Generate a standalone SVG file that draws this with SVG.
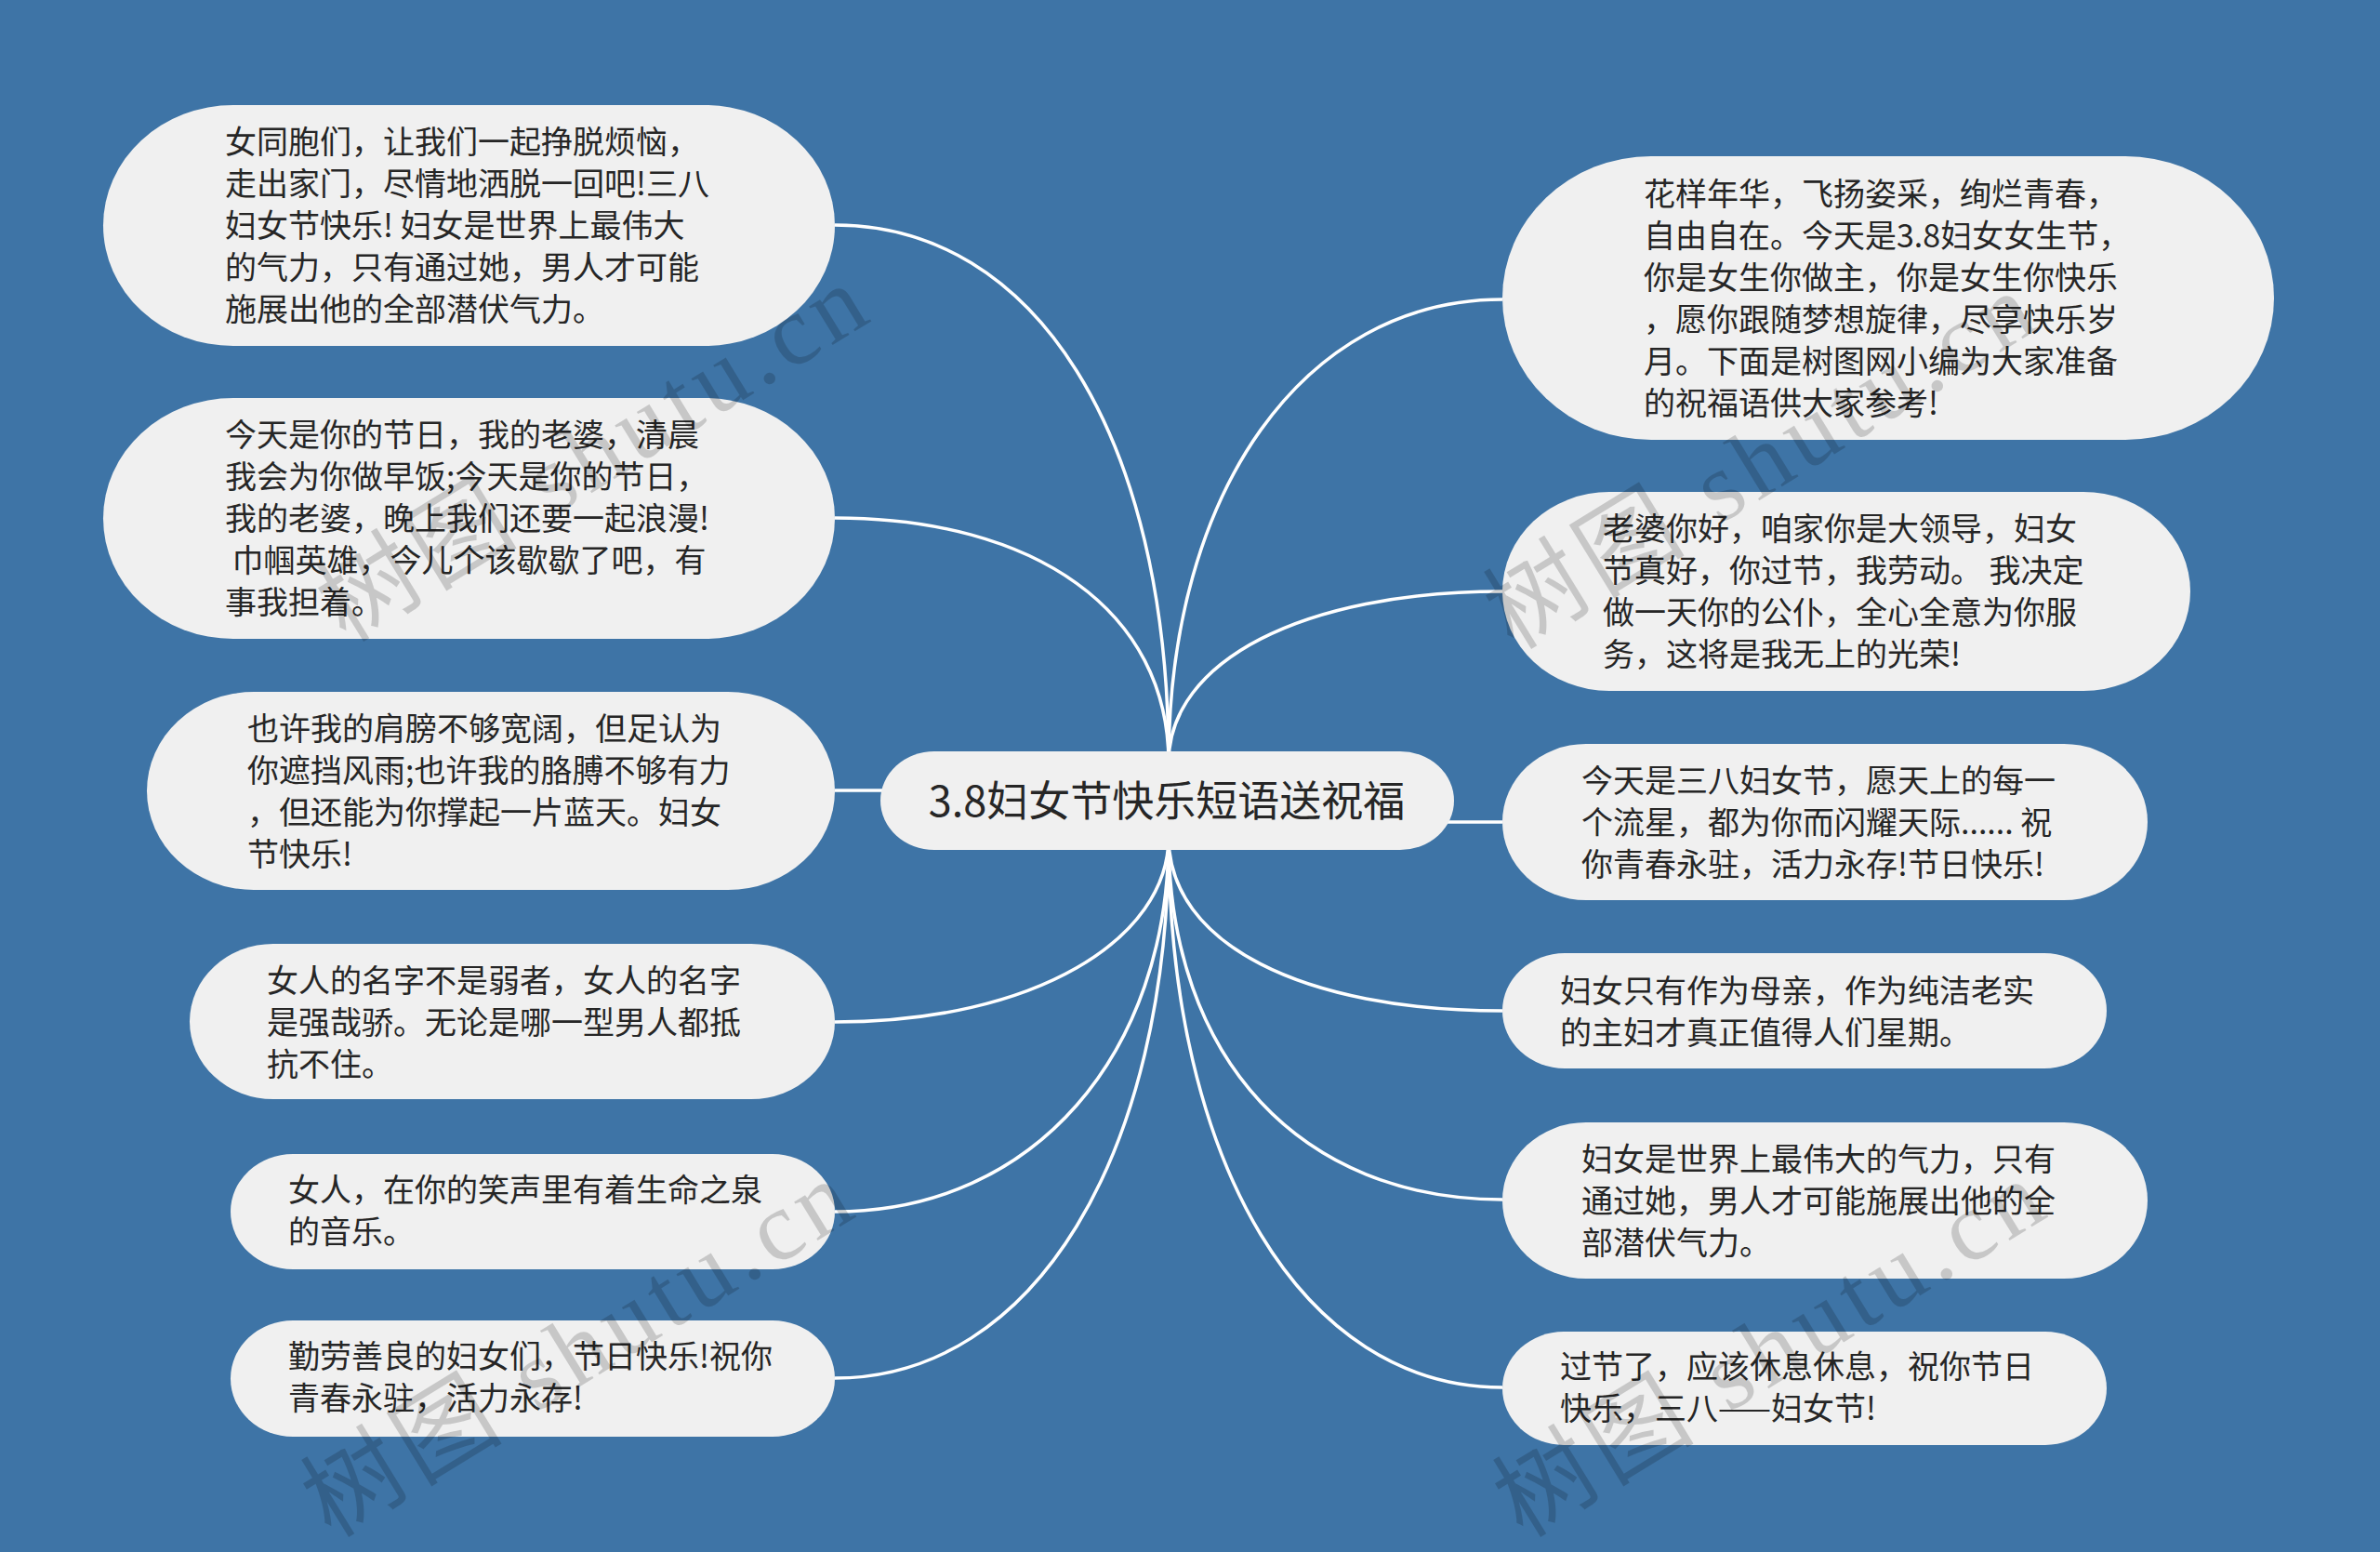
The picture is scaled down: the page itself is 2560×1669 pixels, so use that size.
<svg xmlns="http://www.w3.org/2000/svg" width="2560" height="1669" viewBox="0 0 2560 1669">
<style>
.bg{fill:#3e74a6}
.node{fill:#f0f0f0}
.t{font-family:"Noto Sans CJK SC","Noto Sans",sans-serif;font-size:34px;fill:#262626;white-space:pre}
.title{font-family:"Noto Sans CJK SC","Noto Sans",sans-serif;font-size:45px;fill:#262626;text-anchor:middle}
.edge{fill:none;stroke:#ffffff;stroke-width:3.5}
.wm{font-family:"Liberation Serif","Noto Sans CJK SC",serif;font-size:106px;fill:#000;fill-opacity:0.17;letter-spacing:7px}
</style>
<rect class="bg" x="0" y="0" width="2560" height="1669"/>
<g id="connectors">
<path class="edge" d="M898 242 C1113 242 1257 468 1257 820"/>
<path class="edge" d="M898 557 C1113 557 1257 657 1257 820"/>
<path class="edge" d="M898 850 L960 850"/>
<path class="edge" d="M898 1099 C1113 1099 1257 1010 1257 900"/>
<path class="edge" d="M898 1303 C1113 1303 1257 1132 1257 900"/>
<path class="edge" d="M898 1482 C1113 1482 1257 1240 1257 900"/>
<path class="edge" d="M1616 322 C1401 322 1257 531 1257 820"/>
<path class="edge" d="M1616 636 C1401 636 1257 711 1257 820"/>
<path class="edge" d="M1550 884 L1616 884"/>
<path class="edge" d="M1616 1087 C1401 1087 1257 1015 1257 900"/>
<path class="edge" d="M1616 1290 C1401 1290 1257 1140 1257 900"/>
<path class="edge" d="M1616 1492 C1401 1492 1257 1250 1257 900"/>
</g>
<g id="root">
<rect class="node" x="947" y="808" width="617" height="106" rx="58" ry="53"/>
<text class="title" x="1255" y="878">3.8妇女节快乐短语送祝福</text>
</g>
<g id="n-l1">
<rect class="node" x="111" y="113" width="787" height="259" rx="140" ry="129.5"/>
<text class="t"><tspan x="242" y="165">女同胞们，让我们一起挣脱烦恼，</tspan><tspan x="242" y="210">走出家门，尽情地洒脱一回吧!三八</tspan><tspan x="242" y="255">妇女节快乐! 妇女是世界上最伟大</tspan><tspan x="242" y="300">的气力，只有通过她，男人才可能</tspan><tspan x="242" y="345">施展出他的全部潜伏气力。</tspan></text>
</g>
<g id="n-l2">
<rect class="node" x="111" y="428" width="787" height="259" rx="140" ry="129.5"/>
<text class="t"><tspan x="242" y="480">今天是你的节日，我的老婆，清晨</tspan><tspan x="242" y="525">我会为你做早饭;今天是你的节日，</tspan><tspan x="242" y="570">我的老婆，晚上我们还要一起浪漫!</tspan><tspan x="242" y="615"> 巾帼英雄，今儿个该歇歇了吧，有</tspan><tspan x="242" y="660">事我担着。</tspan></text>
</g>
<g id="n-l3">
<rect class="node" x="158" y="744" width="740" height="213" rx="115" ry="106.5"/>
<text class="t"><tspan x="266" y="796">也许我的肩膀不够宽阔，但足认为</tspan><tspan x="266" y="841">你遮挡风雨;也许我的胳膊不够有力</tspan><tspan x="266" y="886">，但还能为你撑起一片蓝天。妇女</tspan><tspan x="266" y="931">节快乐!</tspan></text>
</g>
<g id="n-l4">
<rect class="node" x="204" y="1015" width="694" height="167" rx="90" ry="83.5"/>
<text class="t"><tspan x="287" y="1067">女人的名字不是弱者，女人的名字</tspan><tspan x="287" y="1112">是强哉骄。无论是哪一型男人都抵</tspan><tspan x="287" y="1157">抗不住。</tspan></text>
</g>
<g id="n-l5">
<rect class="node" x="248" y="1241" width="650" height="124" rx="67" ry="62"/>
<text class="t"><tspan x="310" y="1292">女人，在你的笑声里有着生命之泉</tspan><tspan x="310" y="1337">的音乐。</tspan></text>
</g>
<g id="n-l6">
<rect class="node" x="248" y="1420" width="650" height="125" rx="67" ry="62.5"/>
<text class="t"><tspan x="310" y="1471">勤劳善良的妇女们，节日快乐!祝你</tspan><tspan x="310" y="1516">青春永驻，活力永存!</tspan></text>
</g>
<g id="n-r1">
<rect class="node" x="1616" y="168" width="830" height="305" rx="160" ry="152.5"/>
<text class="t"><tspan x="1768" y="221">花样年华，飞扬姿采，绚烂青春，</tspan><tspan x="1768" y="266">自由自在。今天是3.8妇女女生节，</tspan><tspan x="1768" y="311">你是女生你做主，你是女生你快乐</tspan><tspan x="1768" y="356">，愿你跟随梦想旋律，尽享快乐岁</tspan><tspan x="1768" y="401">月。下面是树图网小编为大家准备</tspan><tspan x="1768" y="446">的祝福语供大家参考!</tspan></text>
</g>
<g id="n-r2">
<rect class="node" x="1616" y="529" width="740" height="214" rx="115" ry="107"/>
<text class="t"><tspan x="1724" y="581">老婆你好，咱家你是大领导，妇女</tspan><tspan x="1724" y="626">节真好，你过节，我劳动。 我决定</tspan><tspan x="1724" y="671">做一天你的公仆，全心全意为你服</tspan><tspan x="1724" y="716">务，这将是我无上的光荣!</tspan></text>
</g>
<g id="n-r3">
<rect class="node" x="1616" y="800" width="694" height="168" rx="90" ry="84"/>
<text class="t"><tspan x="1701" y="852">今天是三八妇女节，愿天上的每一</tspan><tspan x="1701" y="897">个流星，都为你而闪耀天际...... 祝</tspan><tspan x="1701" y="942">你青春永驻，活力永存!节日快乐!</tspan></text>
</g>
<g id="n-r4">
<rect class="node" x="1616" y="1025" width="650" height="124" rx="67" ry="62"/>
<text class="t"><tspan x="1678" y="1078">妇女只有作为母亲，作为纯洁老实</tspan><tspan x="1678" y="1123">的主妇才真正值得人们星期。</tspan></text>
</g>
<g id="n-r5">
<rect class="node" x="1616" y="1207" width="694" height="168" rx="90" ry="84"/>
<text class="t"><tspan x="1701" y="1259">妇女是世界上最伟大的气力，只有</tspan><tspan x="1701" y="1304">通过她，男人才可能施展出他的全</tspan><tspan x="1701" y="1349">部潜伏气力。</tspan></text>
</g>
<g id="n-r6">
<rect class="node" x="1616" y="1432" width="650" height="122" rx="66" ry="61"/>
<text class="t"><tspan x="1678" y="1482">过节了，应该休息休息，祝你节日</tspan><tspan x="1678" y="1527">快乐，三八——妇女节!</tspan></text>
</g>
<g id="watermarks">
<text class="wm" x="372" y="692" transform="rotate(-31.5 372 692)">树图 shutu.cn</text>
<text class="wm" x="356" y="1655" transform="rotate(-31.5 356 1655)">树图 shutu.cn</text>
<text class="wm" x="1628" y="700" transform="rotate(-31.5 1628 700)">树图 shutu.cn</text>
<text class="wm" x="1638" y="1655" transform="rotate(-31.5 1638 1655)">树图 shutu.cn</text>
</g>
</svg>
